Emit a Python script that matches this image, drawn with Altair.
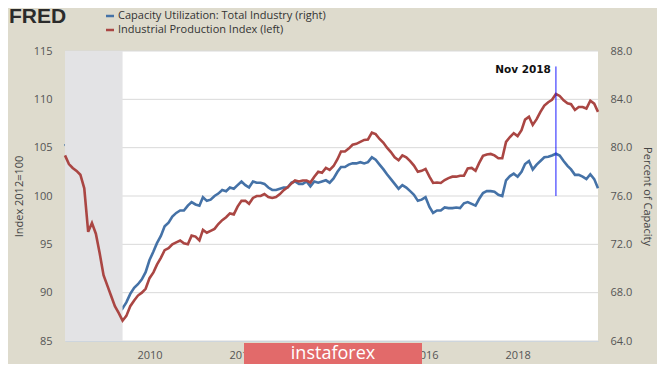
import altair as alt
import pandas as pd

# ---- data (monthly, Mar 2008 - Oct 2019) ----
start_month = "2008-03-01"
end_month = "2019-10-01"

ip_values = [
    104.2, 103.3, 102.9, 102.6, 102.2, 100.8, 96.3, 97.2, 96.1, 94.1,
    91.8, 90.7, 89.7, 88.6, 87.9, 87.1, 87.6, 88.6, 89.2, 89.7, 90.0, 90.4,
    91.5, 92.1, 92.9, 93.6, 94.4, 94.6, 95.0, 95.2, 95.4, 95.1, 95.0, 95.9,
    95.8, 95.4, 96.5, 96.2, 96.4, 96.6, 97.1, 97.5, 97.8, 98.2, 98.1, 98.9,
    99.5, 99.5, 99.2, 99.8, 100.0, 100.0, 100.2, 99.9, 99.8, 99.9, 100.2, 100.6,
    100.9, 101.3, 101.6, 101.5, 101.6, 101.6, 101.4, 102.0, 102.5, 102.4, 102.9, 102.7,
    103.1, 103.8, 104.6, 104.6, 104.9, 105.3, 105.4, 105.6, 105.8, 105.85, 106.55, 106.4,
    105.9, 105.5, 105.0, 104.55, 104.0, 103.7, 104.2, 104.0, 103.6, 103.15, 102.5, 102.6,
    102.8, 102.0, 101.35, 101.4, 101.35, 101.65, 101.85, 102.0, 102.0, 102.1, 102.1, 102.85,
    102.9, 102.6, 103.4, 104.15, 104.3, 104.35, 104.2, 103.9, 103.9, 105.6, 106.1, 106.5,
    106.2, 106.8, 107.9, 108.2, 107.35, 107.95, 108.7, 109.35, 109.7, 109.95, 110.55, 110.35,
    109.9, 109.6, 109.5, 108.9, 109.2, 109.2, 109.05, 109.85, 109.55, 108.7,
]

cu_values = [
    80.3, 79.8, 79.4, 79.1, 78.7, 77.7, 74.5, 75.0, 74.0, 72.4,
    70.3, 69.4, 68.6, 67.9, 67.2, 66.7, 67.2, 67.9, 68.4, 68.7, 69.1, 69.7,
    70.7, 71.4, 72.1, 72.7, 73.5, 73.8, 74.3, 74.6, 74.8, 74.8, 75.2, 75.5,
    75.3, 75.2, 75.9, 75.6, 75.7, 76.0, 76.2, 76.5, 76.4, 76.7, 76.6, 76.9,
    77.2, 76.9, 76.7, 77.2, 77.1, 77.1, 77.0, 76.7, 76.5, 76.5, 76.6, 76.7,
    76.7, 77.1, 77.2, 77.0, 77.0, 77.2, 76.8, 77.2, 77.1, 77.2, 77.3, 77.1,
    77.45, 78.0, 78.4, 78.4, 78.6, 78.7, 78.7, 78.8, 78.7, 78.8, 79.2, 79.0,
    78.6, 78.2, 77.8, 77.4, 77.0, 76.6, 76.9, 76.7, 76.4, 76.1, 75.6, 75.7,
    75.9, 75.1, 74.6, 74.8, 74.8, 75.05, 75.0, 75.0, 75.05, 75.0, 75.4, 75.5,
    75.35, 75.2, 75.75, 76.25, 76.4, 76.4, 76.35, 76.1, 76.0, 77.3, 77.65, 77.85,
    77.6, 78.0, 78.65, 78.9, 78.2, 78.6, 78.9, 79.2, 79.25, 79.35, 79.5, 79.35,
    78.9, 78.5, 78.2, 77.75, 77.75, 77.6, 77.4, 77.8, 77.4, 76.65,
]

left_ticks = [85, 90, 95, 100, 105, 110, 115]
right_ticks = [64, 68, 72, 76, 80, 84, 88]
year_ticks = [2010, 2012, 2014, 2016, 2018]

recession_start = ["2008-03-01"]
recession_end = ["2009-06-01"]

marker_date = ["2018-11-01"]
marker_label = ["Nov 2018"]
marker_top = [113.4]
marker_bottom = [100.0]

legend_labels = ["Capacity Utilization: Total Industry (right)",
                 "Industrial Production Index (left)"]

months = pd.date_range(start_month, end_month, freq="MS")
df = pd.DataFrame({"date": months, "ip": ip_values, "cu": cu_values})

W, H = 533, 290
BG = "#dedbcd"
RED = "#aa4643"
BLUE = "#4572a7"
FONT = "Open Sans"

x_enc = alt.X(
    "date:T",
    scale=alt.Scale(nice=False),
    axis=alt.Axis(
        values=[alt.DateTime(year=y, month=1, date=1) for y in year_ticks],
        format="%Y", title=None, grid=False, ticks=False,
        domainColor="#c0d0e0", domainWidth=1,
        labelFont=FONT, labelFontSize=11, labelColor="#555", labelPadding=8,
        zindex=0,
    ),
)

# ---- right-axis layer: grid lines (at right ticks, same positions) + CU line
grid_df = pd.DataFrame({
    "cu": right_ticks,
    "s": [start_month] * len(right_ticks),
    "e": [end_month] * len(right_ticks),
})
grid = alt.Chart(grid_df).mark_rule(color="#d9d9d9", strokeWidth=1).encode(
    x="s:T", x2="e:T", y=alt.Y("cu:Q")
)

blue = alt.Chart(df).mark_line(color=BLUE, strokeWidth=2.6).encode(
    x=x_enc,
    y=alt.Y(
        "cu:Q",
        scale=alt.Scale(domain=[64, 88], nice=False, zero=False),
        axis=alt.Axis(
            orient="right", values=right_ticks, format=".1f",
            title="Percent of Capacity", grid=False, domain=False, ticks=False,
            labelFont=FONT, labelFontSize=11, labelColor="#555", labelPadding=12,
            titleFont=FONT, titleFontSize=11, titleFontWeight="normal",
            titleColor="#444", titlePadding=10, zindex=0,
        ),
    ),
)
right_layer = alt.layer(grid, blue)

# ---- left-axis layer: recession shading, IP line, Nov 2018 marker
rec = alt.Chart(pd.DataFrame({"s": recession_start, "e": recession_end})).mark_rect(
    color="#e3e3e5"
).encode(x=alt.X("s:T"), x2="e:T", y=alt.value(0), y2=alt.value(H))

red = alt.Chart(df).mark_line(color=RED, strokeWidth=2.6).encode(
    x=x_enc,
    y=alt.Y(
        "ip:Q",
        scale=alt.Scale(domain=[85, 115], nice=False, zero=False),
        axis=alt.Axis(
            orient="left", values=left_ticks, title="Index 2012=100", grid=False,
            domain=False, ticks=False,
            labelFont=FONT, labelFontSize=11, labelColor="#555", labelPadding=13,
            titleFont=FONT, titleFontSize=11, titleFontWeight="normal",
            titleColor="#444", titlePadding=9, zindex=0,
        ),
    ),
)

mk = pd.DataFrame({"d": marker_date, "lab": marker_label,
                   "t": marker_top, "b": marker_bottom})
rule = alt.Chart(mk).mark_rule(color="#1a1aff", strokeWidth=1).encode(
    x="d:T", y=alt.Y("t:Q"), y2="b:Q"
)
mtext = alt.Chart(mk).mark_text(
    align="right", baseline="middle", dx=-5, font="DejaVu Sans",
    fontWeight="bold", fontSize=10.5, color="#111"
).encode(x="d:T", y=alt.value(19), text="lab:N")

left_layer = alt.layer(rec, red, rule, mtext)

# ---- header: FRED logo text and legend
hdr = pd.DataFrame({"t": ["FRED"]})
logo = alt.Chart(hdr).mark_text(
    align="left", baseline="middle", font="Liberation Sans",
    fontWeight="bold", fontSize=21, color="#2b2b2b"
).encode(x=alt.value(-56), y=alt.value(-34), text="t:N")

legend_parts = []
for lab, col, yy in zip(legend_labels, [BLUE, RED], [-35, -21]):
    d = pd.DataFrame({"lab": [lab]})
    legend_parts.append(
        alt.Chart(d).mark_rule(strokeWidth=2.5, color=col).encode(
            x=alt.value(41), x2=alt.value(49), y=alt.value(yy)
        )
    )
    legend_parts.append(
        alt.Chart(d).mark_text(
            align="left", baseline="middle", font=FONT, fontSize=11, color="#333"
        ).encode(x=alt.value(53), y=alt.value(yy), text="lab:N")
    )

# ---- watermark
wm = pd.DataFrame({"t": ["instaforex"]})
wm_box = alt.Chart(wm).mark_rect(color="#e26a6a").encode(
    x=alt.value(179), x2=alt.value(357), y=alt.value(292), y2=alt.value(313)
)
wm_text = alt.Chart(wm).mark_text(
    align="center", baseline="middle", font=FONT, fontSize=18, color="white"
).encode(x=alt.value(268), y=alt.value(303), text="t:N")

chart = alt.layer(
    right_layer, left_layer, logo, *legend_parts, wm_box, wm_text
).resolve_scale(y="independent").properties(
    width=W, height=H,
    autosize=alt.AutoSizeParams(type="none"),
    padding={"left": 57, "top": 43, "right": 59, "bottom": 23},
).configure(background=BG).configure_view(fill="white", stroke=None)

chart.save("out.html", embed_options={"renderer": "svg", "actions": False})
